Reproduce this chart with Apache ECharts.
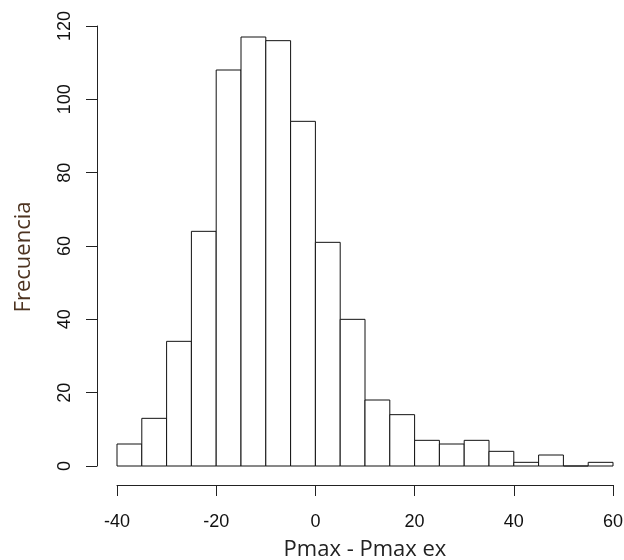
<!DOCTYPE html>
<html>
<head>
<meta charset="utf-8">
<script src="https://cdn.jsdelivr.net/npm/echarts@6/dist/echarts.min.js"></script>
<style>
html,body{margin:0;padding:0;background:#fff;}
#chart{width:624px;height:560px;}
</style>
</head>
<body>
<div id="chart"></div>
<script>
// Histogram bins (lower edges, width 5) and their frequencies
var binStarts = [-40,-35,-30,-25,-20,-15,-10,-5,0,5,10,15,20,25,30,35,40,45,50,55];
var binWidth = 5;
var counts = [6,13,34,64,108,117,116,94,61,40,18,14,7,6,7,4,1,3,0,1];
var xTicks = [-40,-20,0,20,40,60];
var yTicks = [0,20,40,60,80,100,120];
var xTitle = 'Pmax - Pmax ex';
var yTitle = 'Frecuencia';

var data = binStarts.map(function(s,i){ return [s, s + binWidth, counts[i]]; });

var chart = echarts.init(document.getElementById('chart'), null, {renderer:'canvas'});
var axisColor = '#222';
chart.setOption({
  animation:false,
  backgroundColor:'#fff',
  grid:{left:117, right:11, top:26, bottom:94, containLabel:false, outerBoundsMode:'none'},
  xAxis:{
    type:'value', min:-40, max:60, interval:20, offset:19,
    axisLine:{show:true, onZero:false, lineStyle:{color:axisColor, width:1}},
    axisTick:{show:true, length:11, lineStyle:{color:axisColor, width:1}},
    axisLabel:{margin:28, fontFamily:'Liberation Sans', fontSize:18, color:'#111'},
    splitLine:{show:false},
    name:xTitle, nameLocation:'middle', nameGap:54,
    nameTextStyle:{fontFamily:'Open Sans', fontSize:22, color:'#222'}
  },
  yAxis:{
    type:'value', min:0, max:120, interval:20, offset:20,
    axisLine:{show:true, onZero:false, lineStyle:{color:axisColor, width:1}},
    axisTick:{show:true, length:11, lineStyle:{color:axisColor, width:1}},
    axisLabel:{margin:23, rotate:90, fontFamily:'Liberation Sans', fontSize:18, color:'#111'},
    splitLine:{show:false},
    name:yTitle, nameLocation:'middle', nameGap:62,
    nameTextStyle:{fontFamily:'Open Sans', fontSize:22, color:'#4d3320', padding:[0,22,0,0]}
  },
  series:[{
    type:'custom',
    data:data,
    encode:{x:[0,1], y:2},
    renderItem:function(params, api){
      var p0 = api.coord([api.value(0), 0]);
      var p1 = api.coord([api.value(1), api.value(2)]);
      return {
        type:'rect',
        shape:{x:p0[0], y:p1[1], width:p1[0]-p0[0], height:p0[1]-p1[1]},
        style:{fill:'#fff', stroke:'#111', lineWidth:1}
      };
    }
  }]
});
</script>
</body>
</html>
